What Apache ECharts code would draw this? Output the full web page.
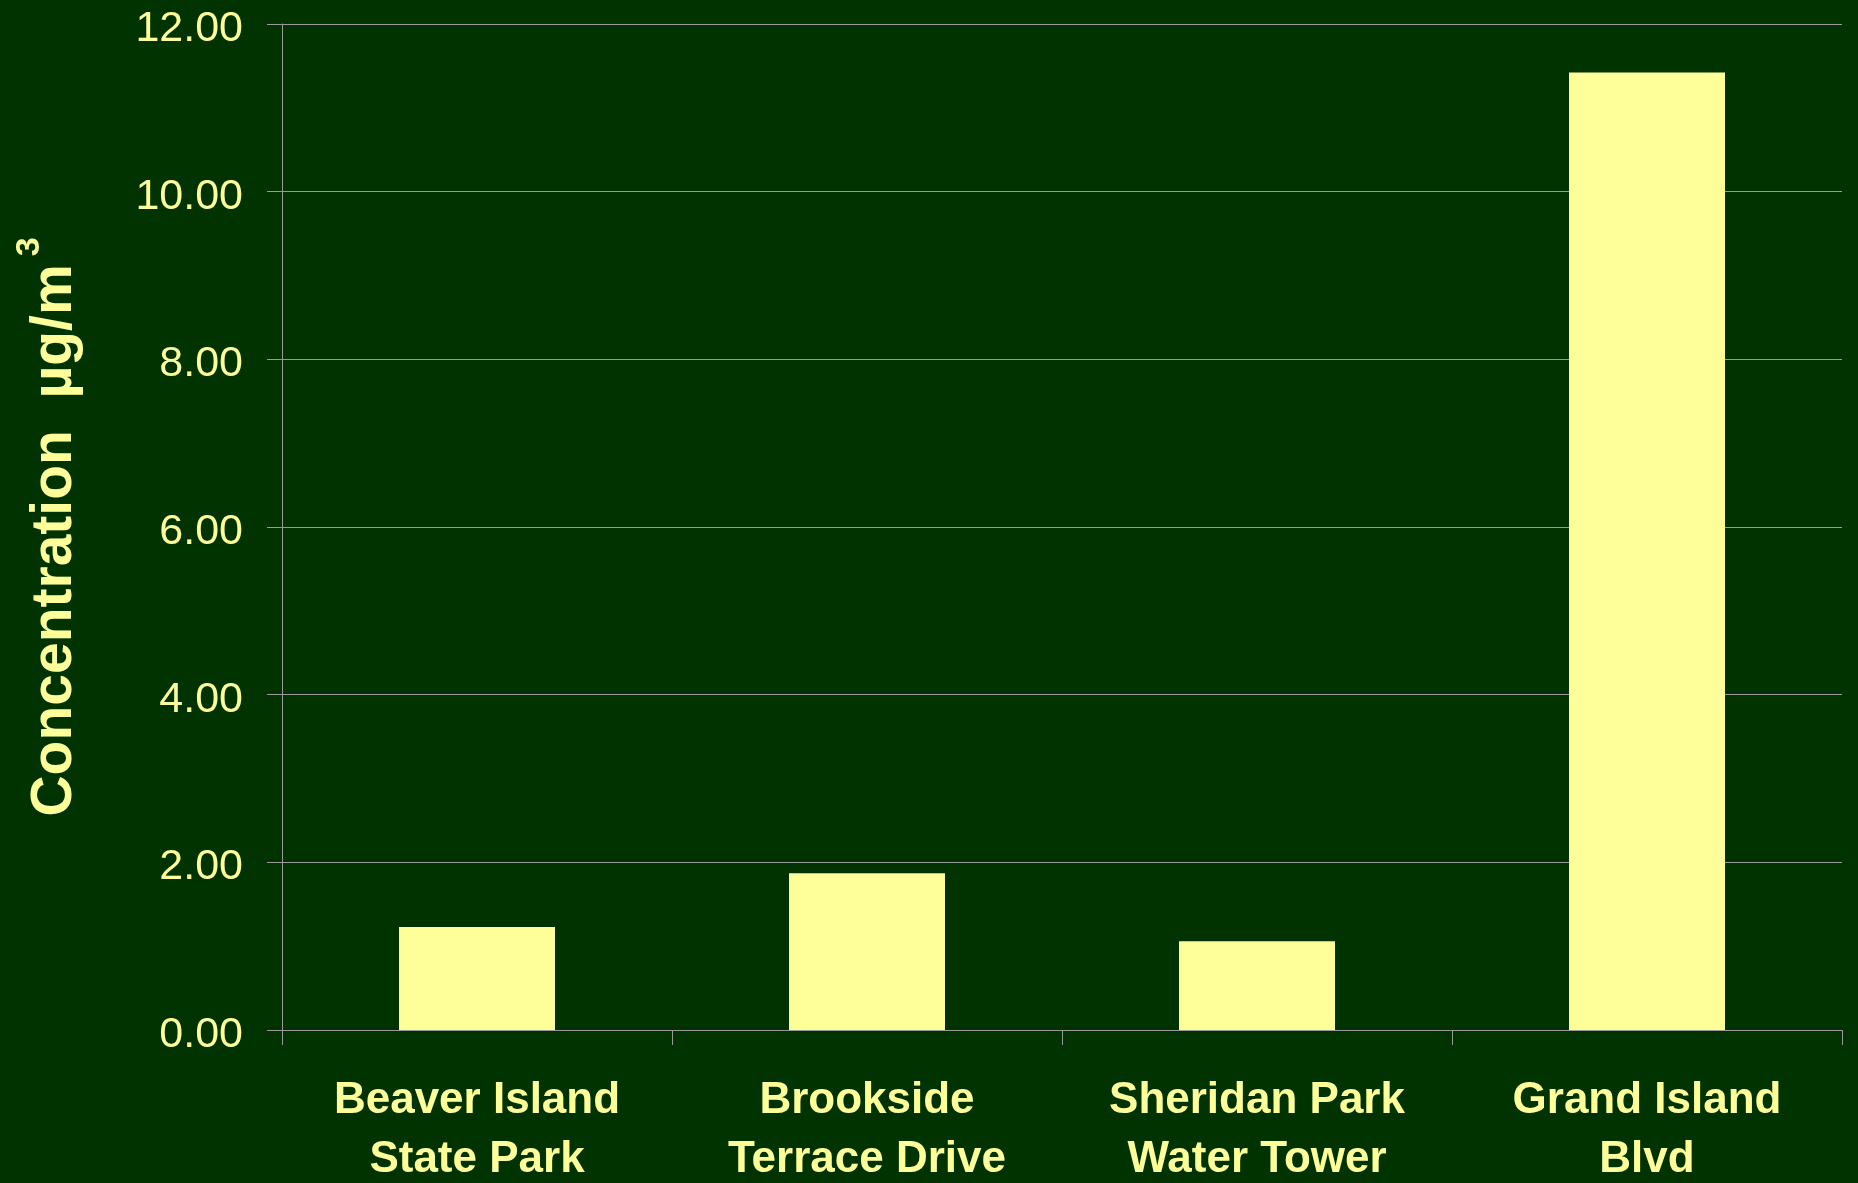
<!DOCTYPE html>
<html>
<head>
<meta charset="utf-8">
<script src="https://cdn.jsdelivr.net/npm/echarts@6/dist/echarts.min.js"></script>
<style>
  html, body { margin: 0; padding: 0; background: #003300; }
  #chart { width: 1858px; height: 1183px; }
</style>
</head>
<body>
<div id="chart"></div>
<script>
// Monitoring sites and measured concentrations (µg/m³)
const sites = [
  'Beaver Island\nState Park',
  'Brookside\nTerrace Drive',
  'Sheridan Park\nWater Tower',
  'Grand Island\nBlvd'
];
const concentrations = [1.23, 1.87, 1.06, 11.42];

const yMin = 0;
const yMax = 12;
const yStep = 2;

const ink = '#FFFF99';
const rule = '#9a9a9a';
const fontFamily = '"Liberation Sans", Arial, Helvetica, sans-serif';

const chart = echarts.init(document.getElementById('chart'));
chart.setOption({
  backgroundColor: '#003300',
  animation: false,
  grid: {
    left: 282, right: 16, top: 24, bottom: 153,
    containLabel: false,
    outerBoundsMode: 'none'
  },
  xAxis: {
    type: 'category',
    data: sites,
    boundaryGap: true,
    axisLine: { show: true, lineStyle: { color: rule, width: 1 } },
    axisTick: { show: true, length: 15, alignWithLabel: false, lineStyle: { color: rule, width: 1 } },
    axisLabel: {
      color: ink,
      fontFamily: fontFamily,
      fontWeight: 'bold',
      fontSize: 44,
      lineHeight: 59,
      margin: 41,
      interval: 0
    },
    splitLine: { show: false }
  },
  yAxis: {
    type: 'value',
    min: yMin,
    max: yMax,
    interval: yStep,
    name: '{main|Concentration  µg/m}{sup|3}',
    nameLocation: 'middle',
    nameRotate: 90,
    nameGap: 185,
    nameTextStyle: {
      rich: {
        main: {
          color: ink,
          fontFamily: fontFamily,
          fontWeight: 'bold',
          fontSize: 57,
          lineHeight: 84
        },
        sup: {
          color: ink,
          fontFamily: fontFamily,
          fontWeight: 'bold',
          fontSize: 34,
          verticalAlign: 'top',
          padding: [0, 0, 0, 8]
        }
      }
    },
    axisLine: { show: true, lineStyle: { color: rule, width: 1 } },
    axisTick: { show: true, length: 15, lineStyle: { color: rule, width: 1 } },
    axisLabel: {
      color: ink,
      fontFamily: fontFamily,
      fontSize: 43,
      margin: 39,
      verticalAlign: 'top',
      lineHeight: 10,
      formatter: v => v.toFixed(2)
    },
    splitLine: { show: true, lineStyle: { color: rule, width: 1 } }
  },
  series: [{
    type: 'bar',
    data: concentrations,
    barWidth: '40%',
    itemStyle: { color: ink },
    label: { show: false }
  }]
});
</script>
</body>
</html>
